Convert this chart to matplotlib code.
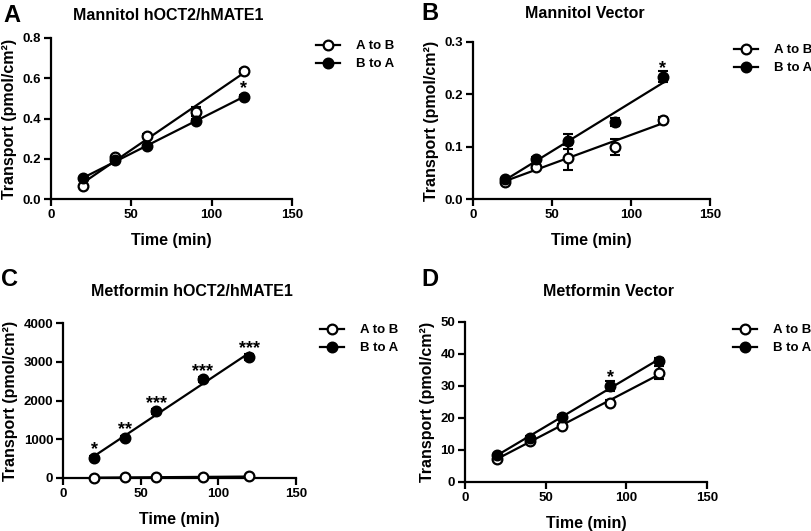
import numpy as np
import matplotlib
matplotlib.use("Agg")
import matplotlib.pyplot as plt
from matplotlib.lines import Line2D

plt.rcParams['font.family'] = ['Liberation Sans', 'DejaVu Sans']
plt.rcParams['font.weight'] = 'bold'
plt.rcParams['axes.labelweight'] = 'bold'

# ---------------- data ----------------
time_min = [20, 40, 60, 90, 120]

# A: Mannitol hOCT2/hMATE1
mann_oct_ab = [0.067, 0.208, 0.312, 0.433, 0.638]
mann_oct_ab_err = [0.005, 0.008, 0.010, 0.022, 0.010]
mann_oct_ba = [0.103, 0.192, 0.262, 0.388, 0.508]
mann_oct_ba_err = [0.005, 0.008, 0.008, 0.010, 0.008]

# B: Mannitol Vector
mann_vec_ab = [0.032, 0.062, 0.079, 0.100, 0.151]
mann_vec_ab_err = [0.002, 0.004, 0.024, 0.015, 0.006]
mann_vec_ba = [0.038, 0.077, 0.110, 0.147, 0.234]
mann_vec_ba_err = [0.002, 0.003, 0.014, 0.008, 0.010]

# C: Metformin hOCT2/hMATE1
metf_oct_ab = [10, 15, 20, 25, 40]
metf_oct_ab_err = [2, 2, 3, 3, 5]
metf_oct_ba = [526, 1034, 1724, 2543, 3129]
metf_oct_ba_err = [40, 50, 60, 70, 80]

# D: Metformin Vector
metf_vec_ab = [7.3, 12.9, 17.5, 24.8, 34.1]
metf_vec_ab_err = [0.4, 0.5, 0.6, 0.8, 2.0]
metf_vec_ba = [8.5, 13.9, 20.4, 30.0, 37.9]
metf_vec_ba_err = [0.4, 0.5, 0.6, 1.5, 0.8]

legend_labels = ["A to B", "B to A"]
panel_letters = ["A", "B", "C", "D"]
panel_titles = ["Mannitol hOCT2/hMATE1", "Mannitol Vector",
                "Metformin hOCT2/hMATE1", "Metformin Vector"]
xticks = [0, 50, 100, 150]
yticks_A = [0.0, 0.2, 0.4, 0.6, 0.8]
yticks_B = [0.0, 0.1, 0.2, 0.3]
yticks_C = [0, 1000, 2000, 3000, 4000]
yticks_D = [0, 10, 20, 30, 40, 50]
yfmt = ["{:.1f}", "{:.1f}", "{:d}", "{:d}"]
# significance labels: index of time point -> label
stars_A = {4: "*"}
stars_B = {4: "*"}
stars_C = {0: "*", 1: "**", 2: "***", 3: "***", 4: "***"}
stars_D = {3: "*"}

W, H = 812, 531
fig = plt.figure(figsize=(W / 100, H / 100), dpi=100)

def fr(x0, y0, x1, y1):
    return [x0 / W, 1 - y1 / H, (x1 - x0) / W, (y1 - y0) / H]

axes_px = [(51, 38, 292, 199), (473, 42, 710, 199),
           (63, 323, 296, 478), (465, 322, 707, 482)]
letter_px = [(12, 15), (430, 13), (10, 279), (430, 279)]
title_px = [(168, 15), (585, 13), (192, 292), (609, 292)]
legend_px = [(316, 40), (734, 44), (320, 324), (733, 324)]

panels = [
    (mann_oct_ab, mann_oct_ab_err, mann_oct_ba, mann_oct_ba_err, yticks_A, stars_A),
    (mann_vec_ab, mann_vec_ab_err, mann_vec_ba, mann_vec_ba_err, yticks_B, stars_B),
    (metf_oct_ab, metf_oct_ab_err, metf_oct_ba, metf_oct_ba_err, yticks_C, stars_C),
    (metf_vec_ab, metf_vec_ab_err, metf_vec_ba, metf_vec_ba_err, yticks_D, stars_D),
]

t = np.array(time_min, dtype=float)
for i, (ab, abe, ba, bae, yt, stars) in enumerate(panels):
    ax = fig.add_axes(fr(*axes_px[i]))
    for vals, errs, mfc in [(ab, abe, 'white'), (ba, bae, 'black')]:
        vals = np.array(vals, dtype=float)
        slope, icpt = np.polyfit(t, vals, 1)
        ax.plot([t[0], t[-1]], [slope * t[0] + icpt, slope * t[-1] + icpt],
                color='black', lw=1.6, zorder=2, clip_on=False)
        ax.errorbar(t, vals, yerr=errs, fmt='none', ecolor='black',
                    elinewidth=1.5, capsize=3.5, capthick=1.5, zorder=3,
                    clip_on=False)
        ax.plot(t, vals, 'o', ms=7, mfc=mfc, mec='black', mew=1.6,
                zorder=4, clip_on=False, linestyle='none')
    for idx, lab in stars.items():
        ax.annotate(lab, (t[idx], ba[idx]), xytext=(0, 2.5),
                    textcoords='offset points', ha='center', va='baseline',
                    fontsize=13, fontweight='bold')
    ax.set_xlim(0, 150)
    ax.set_ylim(yt[0], yt[-1])
    ax.set_xticks(xticks)
    ax.set_xticklabels([str(v) for v in xticks])
    ax.set_yticks(yt)
    ax.set_yticklabels([yfmt[i].format(v) for v in yt])
    for s in ['top', 'right']:
        ax.spines[s].set_visible(False)
    for s in ['left', 'bottom']:
        ax.spines[s].set_linewidth(1.6)
    ax.tick_params(width=1.6, length=5, labelsize=9.5, pad=2)
    for lbl in ax.get_xticklabels() + ax.get_yticklabels():
        lbl.set_fontweight('bold')
    ax.set_xlabel("Time (min)", fontsize=11.5, fontweight='bold', labelpad=9)
    ax.set_ylabel("Transport (pmol/cm²)", fontsize=11.5, fontweight='bold',
                  labelpad=4)
    ax.patch.set_alpha(0)

    lx, ly = letter_px[i]
    fig.text(lx / W, 1 - ly / H, panel_letters[i], fontsize=17,
             fontweight='bold', ha='center', va='center')
    tx, ty = title_px[i]
    fig.text(tx / W, 1 - ty / H, panel_titles[i], fontsize=11.5,
             fontweight='bold', ha='center', va='center')

    handles = [Line2D([0], [0], color='black', lw=1.6, marker='o', ms=7,
                      mfc='white', mec='black', mew=1.6),
               Line2D([0], [0], color='black', lw=1.6, marker='o', ms=7,
                      mfc='black', mec='black', mew=1.6)]
    gx, gy = legend_px[i]
    fig.legend(handles, legend_labels, loc='upper left',
               bbox_to_anchor=(gx / W, 1 - gy / H), frameon=False,
               fontsize=9.5, handlelength=1.8, handletextpad=1.2,
               borderpad=0, borderaxespad=0, labelspacing=0.45,
               prop={'weight': 'bold', 'size': 9.5})

fig.savefig("out.png", dpi=100)
